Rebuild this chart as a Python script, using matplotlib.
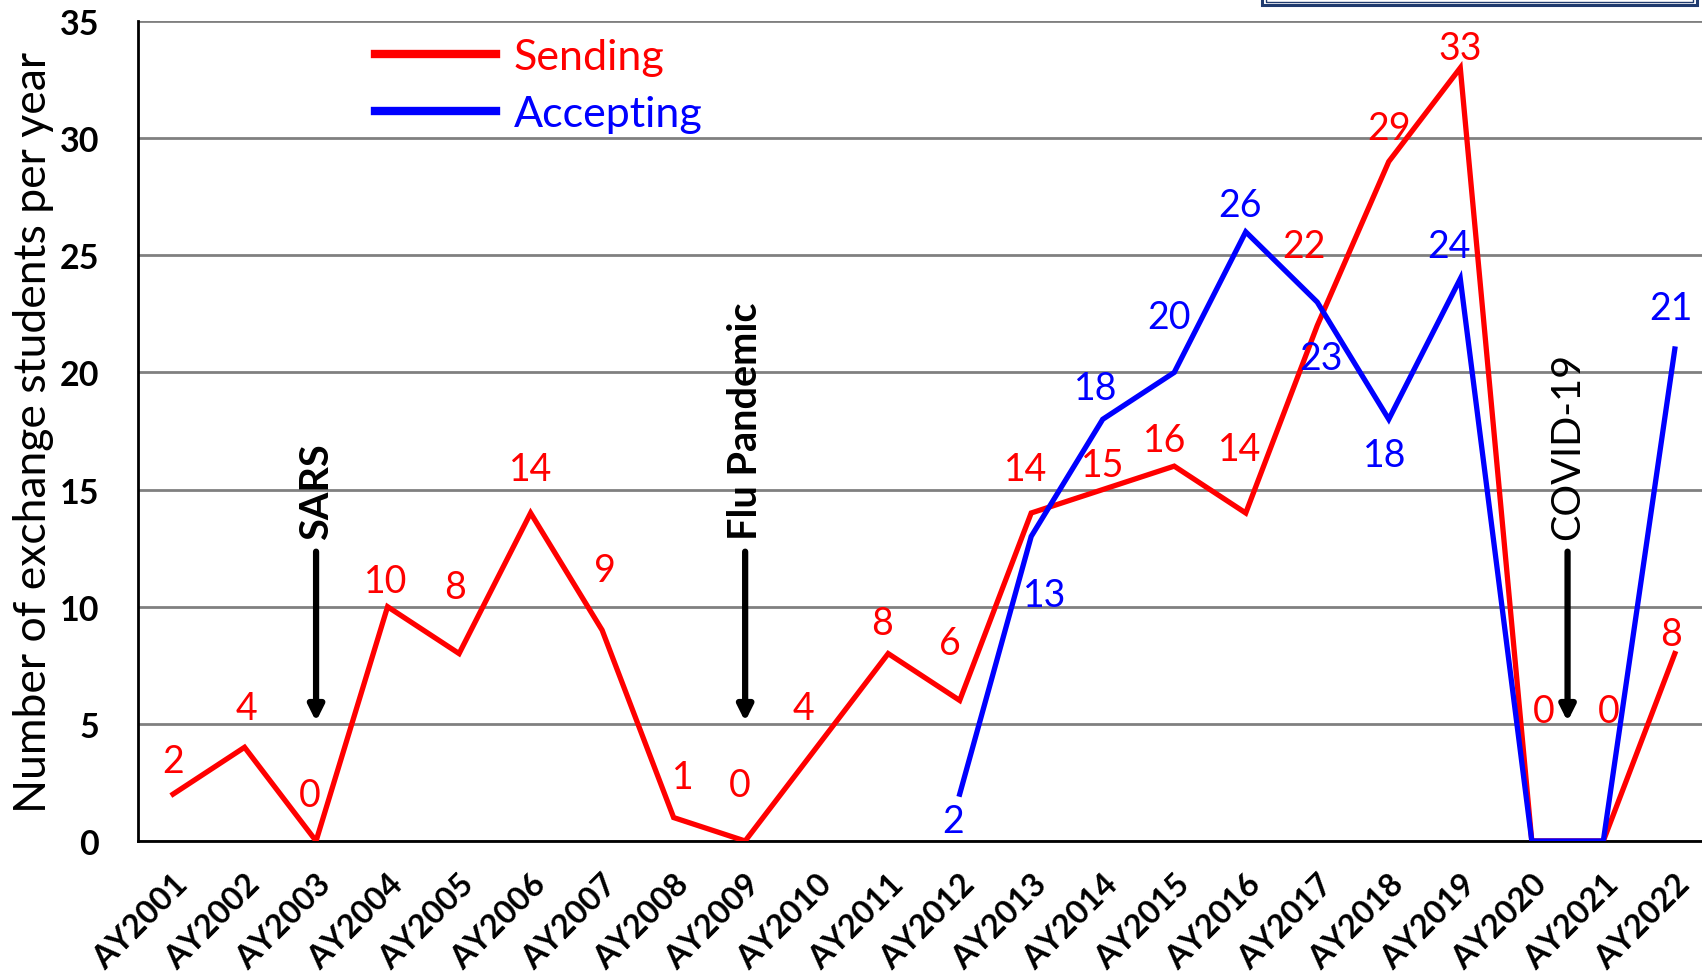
import matplotlib
matplotlib.use("Agg")
import matplotlib.pyplot as plt
from matplotlib.patches import Rectangle

years = ["AY2001", "AY2002", "AY2003", "AY2004", "AY2005", "AY2006", "AY2007",
         "AY2008", "AY2009", "AY2010", "AY2011", "AY2012", "AY2013", "AY2014",
         "AY2015", "AY2016", "AY2017", "AY2018", "AY2019", "AY2020", "AY2021",
         "AY2022"]
sending = [2, 4, 0, 10, 8, 14, 9, 1, 0, 4, 8, 6, 14, 15, 16, 14, 22, 29, 33, 0, 0, 8]
accept_start = 11
accepting = [2, 13, 18, 20, 26, 23, 18, 24, 0, 0, 21]
accepting_labelled = [True, True, True, True, True, True, True, True, False, False, True]

events = ["SARS", "Flu Pandemic", "COVID-19"]
event_pos = [2, 8, 19.5]
event_bold = [True, True, False]

# label offsets in pixels (dx, dy)
send_off = [(0, 33), (2, 39), (-6, 46), (-2, 26), (-4, 67), (0, 44), (3, 60),
            (9, 41), (-5, 56), (-13, 39), (-6, 31), (-10, 57), (-6, 44), (0, 25),
            (-10, 26), (-6, 64), (-13, 80), (0, 34), (0, 20), (12, 130), (5, 130),
            (-4, 20)]
acc_off = [(-7, -27), (13, -59), (-7, 31), (-5, 55), (-6, 27), (4, -56),
           (-4, -36), (-11, 33), (0, 0), (0, 0), (-4, 41)]

FONT = "Lato"
plt.rcParams["font.family"] = [FONT, "DejaVu Sans"]

fig = plt.figure(figsize=(17.02, 9.79), dpi=100)
ax = fig.add_axes([138 / 1702, 1 - 842 / 979, 1 - 138 / 1702, (842 - 22) / 979])

x_send = list(range(len(sending)))
x_acc = list(range(accept_start, accept_start + len(accepting)))

ax.plot(x_send, sending, color="#ff0000", lw=3.8, solid_joinstyle="miter", zorder=3,
        label="Sending")
ax.plot(x_acc, accepting, color="#0000ff", lw=3.8, solid_joinstyle="miter", zorder=3,
        label="Accepting")

for xi, v, off in zip(x_send, sending, send_off):
    ax.annotate(str(v), (xi, v), xytext=off, textcoords="offset pixels",
                ha="center", va="center", color="#ff0000", fontsize=27, zorder=4)
for xi, v, off, lab in zip(x_acc, accepting, acc_off, accepting_labelled):
    if lab:
        ax.annotate(str(v), (xi, v), xytext=off, textcoords="offset pixels",
                    ha="center", va="center", color="#0000ff", fontsize=27, zorder=4)

ax.set_xlim(-0.49, 21.38)
ax.set_ylim(0, 35)
ax.set_yticks(range(0, 36, 5))
ax.yaxis.grid(True, color="#808080", lw=2)
ax.set_axisbelow(True)
ax.tick_params(axis="both", length=0)
ax.tick_params(axis="y", pad=28)
ax.set_xticks(x_send)
ax.set_xticklabels(years, rotation=45, ha="right", rotation_mode="anchor",
                   fontsize=23.5, fontweight="bold")
ax.tick_params(axis="x", pad=20)
for t in ax.get_yticklabels():
    t.set_fontsize(24.5)
    t.set_fontweight("bold")
for s in ["top", "right"]:
    ax.spines[s].set_visible(False)
for s in ["left", "bottom"]:
    ax.spines[s].set_linewidth(2)
    ax.spines[s].set_color("black")

ax.set_ylabel("Number of exchange students per year", fontsize=32, labelpad=4)

leg = ax.legend(loc="upper left", bbox_to_anchor=(0.138, 1.006), frameon=False,
                fontsize=31, handlelength=2.8, handletextpad=0.42,
                labelspacing=0.45, borderaxespad=0.1)
for line, txt in zip(leg.get_lines(), leg.get_texts()):
    line.set_linewidth(6)
    txt.set_color(line.get_color())

for name, xp, bold in zip(events, event_pos, event_bold):
    ax.annotate("", xy=(xp, 5.1), xytext=(xp, 12.35),
                arrowprops=dict(arrowstyle="-|>,head_width=0.45,head_length=0.9",
                                color="black", lw=4.5, shrinkA=0, shrinkB=0),
                zorder=5)
    ax.text(xp, 12.9, name, rotation=90, ha="center", va="bottom", fontsize=28.5,
            fontweight="bold" if bold else "normal", color="black", zorder=5)

fig.patches.append(Rectangle((1262 / 1702, 1 - 6 / 979), (1697 - 1262) / 1702, 0.05,
                             transform=fig.transFigure, facecolor="white",
                             edgecolor="#1f3a6e", lw=2.2))
fig.patches.append(Rectangle((1266 / 1702, 1 - 3 / 979), (1693 - 1266) / 1702, 0.05,
                             transform=fig.transFigure, facecolor="none",
                             edgecolor="#1f3a6e", lw=1))

fig.savefig("out.png", dpi=100)
